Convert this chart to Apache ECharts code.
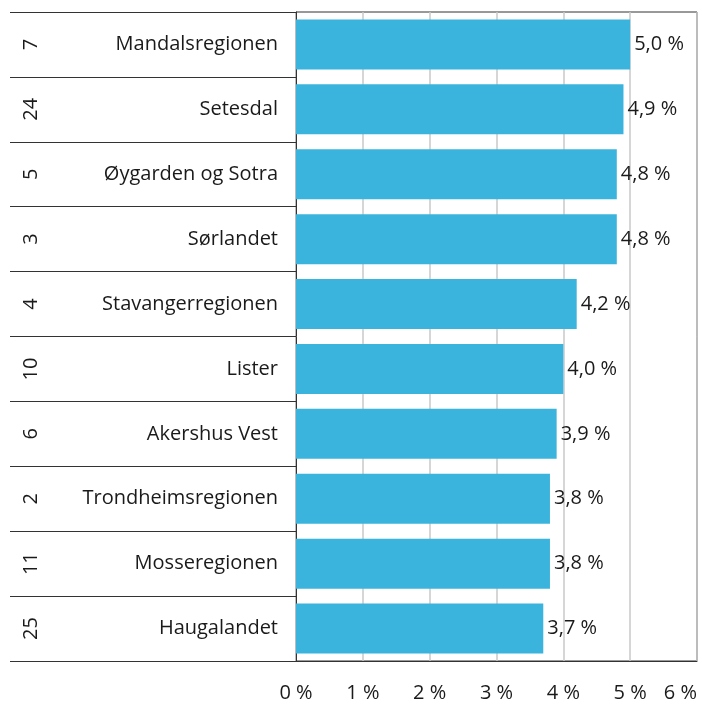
<!DOCTYPE html>
<html>
<head>
<meta charset="utf-8">
<script src="https://cdn.jsdelivr.net/npm/echarts@6/dist/echarts.min.js"></script>
<style>
  html, body { margin: 0; padding: 0; background: #fff; }
  #chart { width: 702px; height: 706px; }
</style>
</head>
<body>
<div id="chart"></div>
<script>
// regioner, rangering og andel
const regions = ['Mandalsregionen', 'Setesdal', 'Øygarden og Sotra', 'Sørlandet', 'Stavangerregionen',
  'Lister', 'Akershus Vest', 'Trondheimsregionen', 'Mosseregionen', 'Haugalandet'];
const ranks = ['7', '24', '5', '3', '4', '10', '6', '2', '11', '25'];
const shares = [5.0, 4.9, 4.8, 4.8, 4.2, 4.0, 3.9, 3.8, 3.8, 3.7];
const xTicks = { min: 0, max: 6, interval: 1 };

const font = 'Open Sans';
const dark = '#333';
const ink = '#1a1a1a';

const chart = echarts.init(document.getElementById('chart'));

const option = {
  animation: false,
  textStyle: { fontFamily: font },
  grid: {
    left: 296, right: 5, top: 12, bottom: 45,
    outerBoundsMode: 'none',
    containLabel: false,
    show: true, borderColor: dark, borderWidth: 1
  },
  xAxis: {
    type: 'value',
    min: xTicks.min, max: xTicks.max, interval: xTicks.interval,
    axisLine: { show: true, lineStyle: { color: dark } },
    axisTick: { show: false },
    splitLine: { show: true, lineStyle: { color: '#c8c8c8', width: 1.5 } },
    axisLabel: {
      margin: 22, fontSize: 20, color: ink, fontFamily: font,
      alignMaxLabel: 'right',
      formatter: v => v + ' %'
    }
  },
  yAxis: [
    {
      type: 'category',
      data: regions,
      inverse: true,
      axisLine: { show: true, lineStyle: { color: dark } },
      axisTick: { show: true, length: 286, lineStyle: { color: dark } },
      axisLabel: { margin: 18, fontSize: 20, color: ink, fontFamily: font }
    },
    {
      type: 'category',
      data: ranks,
      inverse: true,
      position: 'left',
      axisLine: { show: false },
      axisTick: { show: false },
      splitLine: { show: false },
      axisLabel: {
        rotate: 90, margin: 265, fontSize: 20, color: ink, fontFamily: font,
        align: 'center', verticalAlign: 'middle'
      }
    }
  ],
  series: [
    {
      type: 'bar',
      yAxisIndex: 0,
      data: shares,
      barCategoryGap: '23%',
      itemStyle: { color: '#3bb4dd' },
      label: {
        show: true, position: 'right', distance: 4,
        fontSize: 20, color: ink, fontFamily: font,
        formatter: p => p.value.toFixed(1).replace('.', ',') + ' %'
      }
    }
  ]
};

chart.setOption(option);
</script>
</body>
</html>
